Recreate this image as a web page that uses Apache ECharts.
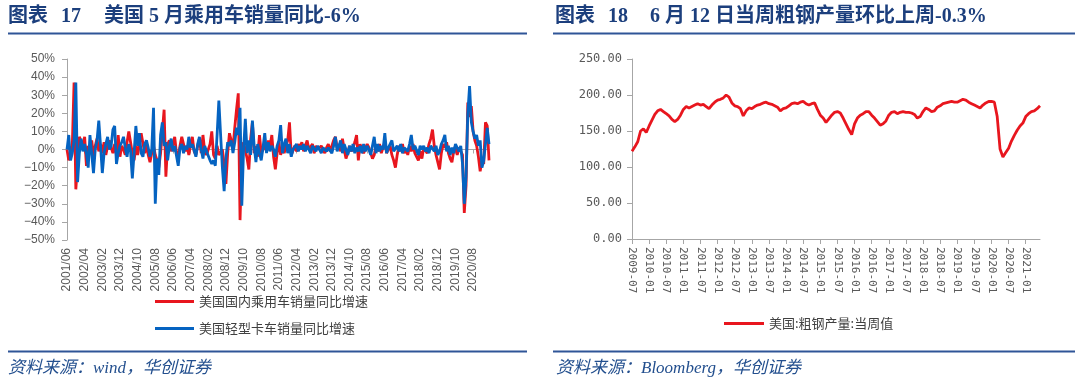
<!DOCTYPE html>
<html><head><meta charset="utf-8">
<script src="https://cdn.jsdelivr.net/npm/echarts@6/dist/echarts.min.js"></script>
<style>html,body{margin:0;padding:0;background:#fff;}#c{width:1080px;height:388px;}</style>
</head><body><div id="c"></div>
<script>
// ---- Left chart: US auto sales YoY (%), monthly from 2001/06 ----
const carMonths = [];
for (let k = 0; k < 240; k++) {
  const y = 2001 + Math.floor((5 + k) / 12);
  const m = (5 + k) % 12 + 1;
  carMonths.push(y + '/' + String(m).padStart(2, '0'));
}
const passengerCarYoY = [
  0,-6,-3,2,37,-22,-8,7,7,2,
  7,-9,2,-2,5,-4,2,6,-1,3,
  -2,4,-3,2,5,1,-2,3,-3,8,
  -4,2,0,-3,4,10,4,-2,-6,2,
  -3,3,9,10,-2,3,-3,-7,-2,2,
  -3,-6,-10,-2,10,22,-15,3,5,-1,
  3,7,-2,-4,2,7,8,-1,2,-3,
  3,7,-1,-3,2,6,-2,8,-1,-3,
  -4,3,10,-3,-5,2,-3,-2,0,-8,
  -19,-2,9,5,1,12,22,31,-39,-5,
  4,3,-5,-11,6,15,-2,2,-4,8,
  -2,-3,2,-1,5,2,8,-4,-11,-2,
  4,-3,1,-2,2,5,15,-3,-2,2,
  -1,3,1,4,-1,2,5,0,-1,3,
  -2,2,0,-1,2,1,-2,1,3,-1,
  2,5,7,1,3,-1,6,0,-5,-2,
  2,-1,1,4,8,-6,3,0,-2,-1,
  3,1,-2,-5,-3,2,-1,3,-2,1,
  4,-2,0,2,-3,-6,-10,-3,2,-1,
  3,-2,0,-3,2,-1,3,-2,-3,-6,
  -1,-5,1,2,-2,3,6,11,2,-3,
  -7,-11,-2,3,1,4,-2,-5,-7,-1,
  2,-3,1,2,-3,-35,-20,26,18,24,
  10,5,2,-4,-12,-6,-8,15,13,-6
];
const lightTruckYoY = [
  0,8,-6,-2,5,37,-18,-2,6,-1,
  3,-2,-10,8,7,-13,0,5,16,2,
  -13,-2,3,7,0,2,11,13,-8,-2,
  2,4,7,1,-4,3,-1,-16,-2,13,
  2,9,-2,-4,3,5,1,-4,0,23,
  -30,-5,-14,8,15,2,4,-6,2,6,
  -1,2,3,-9,1,3,-2,2,0,7,
  1,3,2,-4,3,7,0,-5,2,-1,
  -2,-6,-8,-6,-9,8,27,8,-10,-23,
  -5,4,2,5,-2,4,12,8,23,-31,
  0,17,-2,5,-3,16,2,-7,3,-2,
  -6,1,9,-2,4,-1,2,0,-4,2,
  5,13.5,-2,3,6,-2,3,-4,0,1,
  3,-1,2,0,3,-1,2,1,-2,2,
  1,-1,2,0,-2,1,2,-1,1,0,
  -2,2,7,-1,2,5,-2,3,0,-3,
  2,-1,3,-2,1,-1,2,-2,3,-1,
  2,0,-3,2,7,-2,3,-1,2,0,
  9,-2,1,3,5,-1,-2,2,-1,3,
  -2,1,2,-1,3,8,0,2,1,-3,
  2,0,2,-1,1,-2,2,3,-1,2,
  -3,-1,3,5,8,-1,2,-3,1,-2,
  3,2,-1,2,-8,-30,-15,20,35,15,
  10,6,8,2,5,-10,-6,3,12,3
];
const leftYTicks = { min: -50, max: 50, step: 10 };

// ---- Right chart: US crude steel output, weekly value (monthly sampled), from 2009-07 ----
const steelMonths = [];
for (let k = 0; k < 144; k++) {
  const y = 2009 + Math.floor((6 + k) / 12);
  const m = (6 + k) % 12 + 1;
  steelMonths.push(y + '-' + String(m).padStart(2, '0'));
}
const steelOutput = [
  122,128,135,150,153,148,157,165,173,178,
  180,177,174,171,166,163,166,172,180,184,
  182,184,186,188,186,187,184,181,186,190,
  193,194,196,200,197,189,185,184,181,171,
  178,182,181,184,186,187,189,190,188,187,
  185,183,178,181,182,185,188,189,188,190,
  191,188,186,188,189,180,172,168,162,167,
  172,176,177,175,168,160,152,145,160,168,
  172,174,177,177,172,168,163,158,160,164,
  172,176,177,174,176,177,176,176,175,173,
  168,170,177,182,180,177,178,183,185,188,
  189,190,191,190,190,192,194,193,190,188,
  186,184,182,186,189,191,191,190,170,125,
  114,120,126,136,144,151,157,161,170,174,
  177,178,181,185
];
const rightYTicks = { min: 0, max: 250, step: 50 };

const leftSeriesNames = ['美国国内乘用车销量同比增速', '美国轻型卡车销量同比增速'];
const rightSeriesName = '美国:粗钢产量:当周值';

const RED = '#e8161e', BLUE = '#0563c1', AX = '#a6a6a6', LBL = '#595959';
const TITLE_C = '#1c3f7d', RULE_C = '#2f5597', SRC_C = '#234f8e';
const titleFont = 'bold 20px "Liberation Serif", "Noto Sans CJK SC"';
const srcFont = 'italic 17px "Liberation Serif", "Noto Sans CJK SC"';
const cjk = '"Noto Sans CJK SC"';
const mono = '"DejaVu Sans Mono", "Liberation Mono", monospace';

function txt(x, y, text, font, fill) {
  return { type: 'text', x: x, y: y, silent: true,
    style: { text: text, font: font, fill: fill, verticalAlign: 'middle', align: 'left' } };
}
function rule(x1, x2, y) {
  return { type: 'line', silent: true, shape: { x1: x1, y1: y, x2: x2, y2: y },
    style: { stroke: RULE_C, lineWidth: 2 } };
}

const chart = echarts.init(document.getElementById('c'), null, { renderer: 'canvas' });
chart.setOption({
  animation: false,
  backgroundColor: '#ffffff',
  grid: [
    { left: 67, top: 59, width: 422, height: 181, outerBoundsMode: 'none' },
    { left: 632, top: 59, width: 408, height: 180, outerBoundsMode: 'none' }
  ],
  xAxis: [
    { gridIndex: 0, type: 'category', data: carMonths, boundaryGap: false, position: 'bottom',
      axisLine: { show: false, onZero: false }, axisTick: { show: false },
      axisLabel: { interval: 9, rotate: 90, margin: 8, color: LBL, fontSize: 12,
        fontFamily: '"Liberation Sans", Arial, sans-serif' } },
    { gridIndex: 0, type: 'category', data: carMonths, boundaryGap: false, position: 'bottom',
      axisLine: { show: true, onZero: true, lineStyle: { color: AX, width: 1 } },
      axisTick: { show: true, interval: 9, length: 4, lineStyle: { color: AX } },
      axisLabel: { show: false } },
    { gridIndex: 1, type: 'category', data: steelMonths, boundaryGap: false, position: 'bottom',
      axisLine: { show: true, lineStyle: { color: AX, width: 1 } },
      axisTick: { show: true, interval: 5, length: 5, lineStyle: { color: AX } },
      axisLabel: { interval: 5, rotate: -90, margin: 8, color: LBL, fontSize: 11, fontFamily: mono } }
  ],
  yAxis: [
    { gridIndex: 0, type: 'value', min: leftYTicks.min, max: leftYTicks.max, interval: leftYTicks.step,
      splitLine: { show: false },
      axisLine: { show: true, lineStyle: { color: AX, width: 1 } },
      axisTick: { show: true, length: 5, lineStyle: { color: AX } },
      axisLabel: { margin: 12, color: LBL, fontSize: 12, fontFamily: '"Liberation Sans", Arial, sans-serif',
        formatter: v => (v < 0 ? '\u2212' : '') + Math.abs(v) + '%' } },
    { gridIndex: 1, type: 'value', min: rightYTicks.min, max: rightYTicks.max, interval: rightYTicks.step,
      splitLine: { show: false },
      axisLine: { show: true, lineStyle: { color: AX, width: 1 } },
      axisTick: { show: true, length: 5, lineStyle: { color: AX } },
      axisLabel: { margin: 10, color: LBL, fontSize: 12, fontFamily: mono,
        formatter: v => v.toFixed(2) } }
  ],
  legend: [
    { data: leftSeriesNames, orient: 'vertical', left: 155, top: 295, padding: 0,
      itemWidth: 39, itemHeight: 3, itemGap: 14, icon: 'rect', selectedMode: false,
      textStyle: { fontSize: 13, color: '#404040', fontFamily: cjk } },
    { data: [rightSeriesName], orient: 'horizontal', left: 724, top: 317, padding: 0,
      itemWidth: 40, itemHeight: 3, icon: 'rect', selectedMode: false,
      textStyle: { fontSize: 13, color: '#404040', fontFamily: cjk } }
  ],
  series: [
    { name: leftSeriesNames[0], type: 'line', xAxisIndex: 0, yAxisIndex: 0, data: passengerCarYoY,
      symbol: 'none', lineStyle: { color: RED, width: 2.8 }, itemStyle: { color: RED } },
    { name: leftSeriesNames[1], type: 'line', xAxisIndex: 0, yAxisIndex: 0, data: lightTruckYoY,
      symbol: 'none', lineStyle: { color: BLUE, width: 2.8 }, itemStyle: { color: BLUE } },
    { name: rightSeriesName, type: 'line', xAxisIndex: 2, yAxisIndex: 1, data: steelOutput,
      symbol: 'none', lineStyle: { color: RED, width: 2.8 }, itemStyle: { color: RED } }
  ],
  graphic: [
    txt(8, 17, '图表', titleFont, TITLE_C),
    txt(61, 17, '17', titleFont, TITLE_C),
    txt(104, 17, '美国 5 月乘用车销量同比-6%', titleFont, TITLE_C),
    txt(555, 17, '图表', titleFont, TITLE_C),
    txt(608, 17, '18', titleFont, TITLE_C),
    txt(650, 17, '6 月 12 日当周粗钢产量环比上周-0.3%', titleFont, TITLE_C),
    rule(8, 527, 33.5),
    rule(553, 1075, 33.5),
    rule(8, 527, 351.5),
    rule(553, 1075, 351.5),
    txt(8, 369, '资料来源：wind，华创证券', srcFont, SRC_C),
    txt(556, 369, '资料来源：Bloomberg，华创证券', srcFont, SRC_C)
  ]
});
</script>
</body></html>
